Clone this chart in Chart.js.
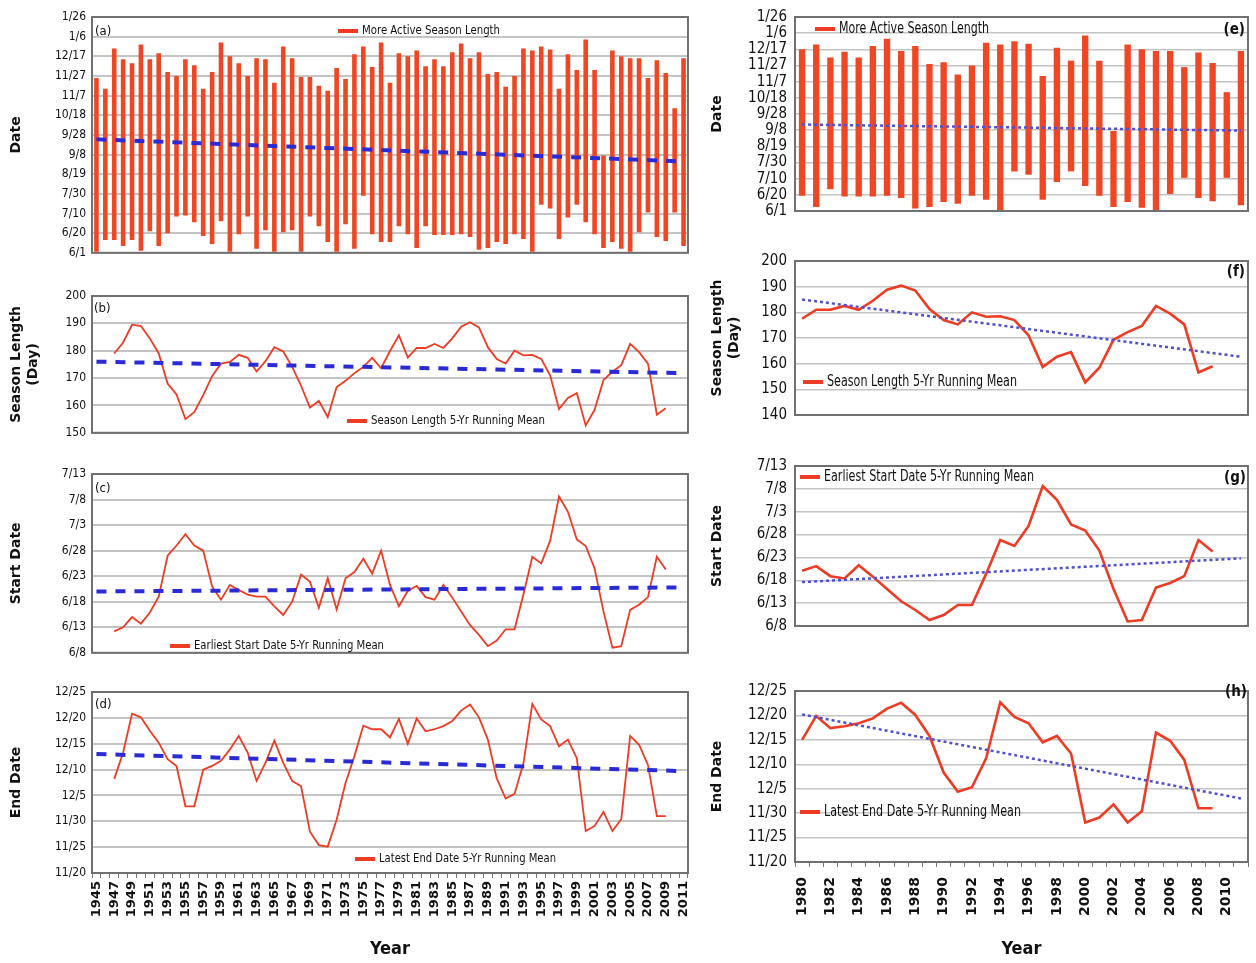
<!DOCTYPE html>
<html><head><meta charset="utf-8">
<script src="https://cdn.jsdelivr.net/npm/chart.js@4.4.1/dist/chart.umd.min.js"></script>
<style>
html,body{margin:0;padding:0;background:#fff;}
#wrap{position:relative;width:1256px;height:963px;overflow:hidden;background:#fff;}
#wrap canvas{position:absolute;}
</style></head><body><div id="wrap"></div>
<script>
// ---------- categories ----------
const years = [];
for (let y = 1945; y <= 2011; y++) years.push(String(y));
const yearsRecent = years.slice(years.indexOf('1980'));   // 1980..2011

// ---------- tick labels ----------
const dateTicks  = ['6/1','6/20','7/10','7/30','8/19','9/8','9/28','10/18','11/7','11/27','12/17','1/6','1/26']; // step 20 days from 6/1
const startTicks = ['6/8','6/13','6/18','6/23','6/28','7/3','7/8','7/13'];      // step 5 days from 6/8
const endTicks   = ['11/20','11/25','11/30','12/5','12/10','12/15','12/20','12/25']; // step 5 days from 11/20

// ---------- data (1945..2011) ----------
// more active season: start / end, days after June 1
const barStart = [0,13,13,7,13,2,22,7,20,37,38,31,17,9,32,0,19,37,4,23,0,21,23,0,37,27,11,0,29,4,58,19,11,11,27,
  19,5,27,18,18,18,19,16,3,5,11,9,19,14,0,49,45,14,36,49,31,19,5,11,4,0,21,41,16,12,41,7];
const barEnd = [178,167,208,197,193,212,197,203,184,180,197,191,167,184,214,200,193,180,198,197,173,210,198,179,179,170,165,188,177,202,210,189,214,173,203,
  200,206,190,197,190,204,213,198,204,182,184,169,180,208,206,210,207,167,202,186,217,186,99,206,200,198,198,178,196,183,147,198];
// season length 5-yr running mean (days)
const seasonLen = [null,null,
  179,183,189.5,189,184.5,179,168,164,155,157.5,163.8,170.7,175.3,175.9,178.5,177.4,172.4,176.2,181.3,179.7,174.1,167.2,159.2,161.7,155.7,166.7,169,171.8,174.1,177.4,173.6,179.9,185.6,
  177.5,181,181,182.5,181,184.5,188.8,190.4,188.5,181.3,177,175.3,180,178.3,178.5,177,171,158.7,162.7,164.5,152.7,158.4,169.3,172.3,174.7,182.5,179.5,175.3,156.6,159,
  null,null];
// earliest start date 5-yr running mean, days after June 8
const startMean = [null,null,
  4.2,5,7,5.7,7.9,11,19,21,23.2,21,20,13,10.4,13.3,12.3,11.4,11,11,9.1,7.4,10,15.3,13.9,8.8,14.6,8.5,14.6,15.8,18.4,15.5,20,13.3,9.1,
  12.1,13.1,10.9,10.4,13.3,10.8,8.1,5.4,3.5,1.3,2.4,4.6,4.6,11.4,18.8,17.5,21.9,30.6,27.6,22.2,20.9,16.5,8.1,1.0,1.3,8.4,9.4,10.9,18.8,16.3,
  null,null];
// latest end date 5-yr running mean, days after Nov 20
const endMean = [null,null,
  18.2,23.3,30.8,30.1,27.5,25.2,22,20.7,12.9,12.9,20,20.7,21.7,23.9,26.5,23.3,17.8,21.3,25.6,21.3,17.8,16.8,8,5.4,5.1,10.3,17.4,22.6,28.5,27.8,27.8,26.2,29.8,
  25,29.9,27.4,27.8,28.4,29.4,31.4,32.6,30.1,25.8,18.3,14.4,15.3,21.2,32.7,29.7,28.4,24.5,25.8,22.2,8.1,9.1,11.8,8.1,10.4,26.5,24.8,20.9,11,11,
  null,null];
// linear trend end points [first year, last year]
const trendA = [115.5, 93];   const trendE = [107, 99.5];
const trendB = [176, 171.8];  const trendF = [185, 162.7];
const trendC = [12, 12.8];    const trendG = [9.6, 14.8];
const trendD = [23, 19.7];    const trendH = [30.2, 13];

// ---------- styling ----------
const RED = '#ee3b24', BAR = '#ef4724', BLUE = '#2b2bd6', BLUE2 = '#4f4fd0';
const NARROW = "'Liberation Sans Narrow','DejaVu Sans Condensed',sans-serif";
const WIDE = "'DejaVu Sans',sans-serif";

const deco = {
  id: 'deco',
  afterDraw(chart, args, o) {
    const {ctx, chartArea: a} = chart;
    ctx.save();
    ctx.strokeStyle = '#707070'; ctx.lineWidth = 2;
    ctx.strokeRect(a.left, a.top, a.right - a.left, a.bottom - a.top);
    if (o.legend) {
      const L = o.legend;
      ctx.strokeStyle = RED; ctx.lineWidth = 4;
      ctx.beginPath(); ctx.moveTo(L.x, L.y); ctx.lineTo(L.x + 20, L.y); ctx.stroke();
      ctx.fillStyle = '#111'; ctx.font = L.font; ctx.textBaseline = 'middle'; ctx.textAlign = 'left';
      ctx.fillText(L.text, L.x + 24, L.y, L.w);
    }
    if (o.tag) {
      const T = o.tag;
      ctx.fillStyle = '#111'; ctx.font = T.font; ctx.textBaseline = 'middle'; ctx.textAlign = T.align || 'left';
      ctx.fillText(T.text, T.x, T.y);
    }
    ctx.restore();
  }
};

function trendData(n, ends) {
  const d = new Array(n).fill(null);
  d[0] = ends[0]; d[n - 1] = ends[1];
  return d;
}

function panel(p) {
  const [bx, by, bw, bh] = p.box;
  const [al, at, ar, ab] = p.area;
  const c = document.createElement('canvas');
  c.width = bw; c.height = bh;
  c.style.left = bx + 'px'; c.style.top = by + 'px';
  document.getElementById('wrap').appendChild(c);
  const pad = {left: al - bx - p.yW, top: at - by, right: bx + bw - ar, bottom: by + bh - ab - p.xH};
  const cats = p.cats;
  const right = p.right;
  const datasets = [{
    type: 'line', data: trendData(cats.length, p.trend), spanGaps: true,
    borderColor: right ? BLUE2 : BLUE, borderWidth: right ? 2.5 : 4,
    borderDash: right ? [3, 3] : [10, 9], pointRadius: 0, tension: 0
  }];
  if (p.bars) {
    datasets.push({
      type: 'bar', data: p.bars, backgroundColor: BAR, borderWidth: 0,
      barPercentage: right ? 0.45 : 0.52, categoryPercentage: 1
    });
  }
  if (p.line) {
    datasets.push({
      type: 'line', data: p.line, borderColor: RED, borderWidth: right ? 2.6 : 1.8,
      pointRadius: 0, tension: 0, spanGaps: false
    });
  }
  const yl = p.y.labels;
  new Chart(c, {
    type: 'bar',
    data: {labels: cats, datasets},
    options: {
      responsive: false, animation: false, maintainAspectRatio: false,
      layout: {padding: pad},
      plugins: {
        legend: {display: false}, tooltip: {enabled: false},
        deco: {
          legend: Object.assign({}, p.legend, {x: p.legend.x - bx, y: p.legend.y - by}),
          tag: Object.assign({}, p.tag, {x: p.tag.x - bx, y: p.tag.y - by})
        }
      },
      scales: {
        x: {
          type: 'category', offset: true,
          grid: {display: !!p.xLabels, drawOnChartArea: false, drawTicks: true, tickLength: 5, color: '#777', offset: true},
          border: {display: false},
          ticks: {
            display: !!p.xLabels, autoSkip: false, minRotation: 90, maxRotation: 90,
            padding: p.xPad || 3, color: '#111',
            font: {family: WIDE, weight: 'bold', size: right ? 14 : 13},
            callback: (v, i) => (i % 2 === 0 ? cats[i] : '')
          },
          title: {display: !!p.xLabels, text: 'Year', color: '#111', padding: {top: 2, bottom: 3},
                  font: {family: NARROW, weight: 'bold', size: 18}},
          afterFit: s => { s.height = p.xH; }
        },
        y: {
          type: 'linear', min: p.y.min, max: p.y.max,
          ticks: {
            stepSize: p.y.step, autoSkip: false, padding: right ? 8 : 6, color: '#111',
            font: {family: NARROW, size: right ? 15 : 12},
            callback: v => (yl ? yl[Math.round((v - p.y.min) / p.y.step)] : v)
          },
          grid: {color: '#c4c4c4', lineWidth: right ? 1.5 : 2, drawTicks: false},
          border: {display: false},
          title: {display: true, text: p.yTitle, color: '#111', padding: {top: 2, bottom: 2},
                  font: {family: WIDE, weight: 'bold', size: 14}},
          afterFit: s => { s.width = p.yW; }
        }
      }
    },
    plugins: [deco]
  });
}

const fromIdx = years.indexOf('1980');
const floatBars = barStart.map((s, i) => [s, barEnd[i]]);
const LF = '13px ' + NARROW, RF = '15px ' + NARROW;
const TAGL = '13px ' + NARROW, TAGR = 'bold 15px ' + NARROW;

// ---------------- left column ----------------
panel({box: [0, 0, 700, 266], area: [92, 17, 688, 258], yW: 86, xH: 0, cats: years,
  bars: floatBars, trend: trendA, y: {min: 0, max: 240, step: 20, labels: dateTicks}, yTitle: 'Date',
  legend: {x: 338, y: 31, text: 'More Active Season Length', font: LF, w: 138},
  tag: {x: 95, y: 32, text: '(a)', font: TAGL}});
panel({box: [0, 280, 700, 166], area: [92, 296, 688, 437], yW: 86, xH: 0, cats: years,
  line: seasonLen, trend: trendB, y: {min: 150, max: 200, step: 10}, yTitle: ['Season Length', '(Day)'],
  legend: {x: 347, y: 421, text: 'Season Length 5-Yr Running Mean', font: LF, w: 174},
  tag: {x: 94, y: 309, text: '(b)', font: TAGL}});
panel({box: [0, 460, 700, 206], area: [92, 474, 688, 657], yW: 86, xH: 0, cats: years,
  line: startMean, trend: trendC, y: {min: 0, max: 35, step: 5, labels: startTicks}, yTitle: 'Start Date',
  legend: {x: 170, y: 646, text: 'Earliest Start Date 5-Yr Running Mean', font: LF, w: 190},
  tag: {x: 95, y: 489, text: '(c)', font: TAGL}});
panel({box: [0, 678, 720, 285], area: [92, 692, 688, 873], yW: 86, xH: 90, cats: years, xLabels: true,
  line: endMean, trend: trendD, y: {min: 0, max: 35, step: 5, labels: endTicks}, yTitle: 'End Date',
  legend: {x: 355, y: 859, text: 'Latest End Date 5-Yr Running Mean', font: LF, w: 177},
  tag: {x: 95, y: 705, text: '(d)', font: TAGL}});

// ---------------- right column ----------------
panel({box: [700, 0, 556, 228], area: [795, 15, 1248, 218], yW: 88, xH: 0, cats: yearsRecent, right: true,
  bars: floatBars.slice(fromIdx), trend: trendE, y: {min: 0, max: 240, step: 20, labels: dateTicks}, yTitle: 'Date',
  legend: {x: 815, y: 29, text: 'More Active Season Length', font: RF, w: 150},
  tag: {x: 1245, y: 30, text: '(e)', font: TAGR, align: 'right'}});
panel({box: [700, 244, 556, 188], area: [795, 258, 1248, 421], yW: 88, xH: 0, cats: yearsRecent, right: true,
  line: seasonLen.slice(fromIdx), trend: trendF, y: {min: 140, max: 200, step: 10}, yTitle: ['Season Length', '(Day)'],
  legend: {x: 803, y: 382, text: 'Season Length 5-Yr Running Mean', font: RF, w: 190},
  tag: {x: 1245, y: 272, text: '(f)', font: TAGR, align: 'right'}});
panel({box: [700, 449, 556, 194], area: [795, 463, 1248, 633], yW: 88, xH: 0, cats: yearsRecent, right: true,
  line: startMean.slice(fromIdx), trend: trendG, y: {min: 0, max: 35, step: 5, labels: startTicks}, yTitle: 'Start Date',
  legend: {x: 800, y: 477, text: 'Earliest Start Date 5-Yr Running Mean', font: RF, w: 210},
  tag: {x: 1246, y: 478, text: '(g)', font: TAGR, align: 'right'}});
panel({box: [700, 674, 580, 289], area: [795, 688, 1248, 862], yW: 88, xH: 101, cats: yearsRecent, right: true, xLabels: true, xPad: 10,
  line: endMean.slice(fromIdx), trend: trendH, y: {min: 0, max: 35, step: 5, labels: endTicks}, yTitle: 'End Date',
  legend: {x: 800, y: 812, text: 'Latest End Date 5-Yr Running Mean', font: RF, w: 197},
  tag: {x: 1247, y: 692, text: '(h)', font: TAGR, align: 'right'}});
</script>
</body></html>
